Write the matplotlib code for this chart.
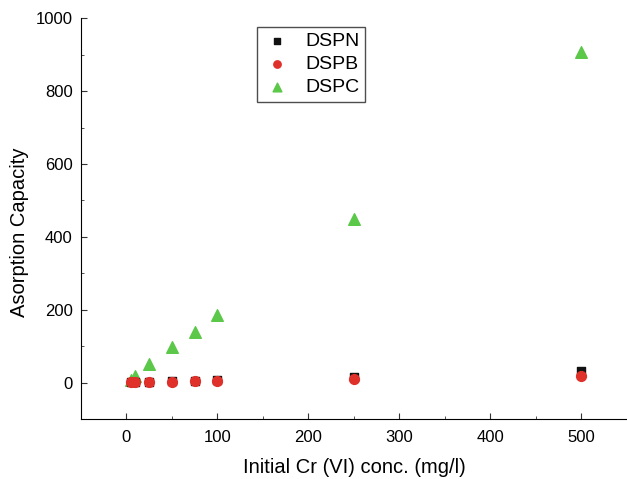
import matplotlib
matplotlib.use("Agg")
import matplotlib.pyplot as plt
from matplotlib.ticker import MultipleLocator

plt.rcParams['font.family'] = ['Liberation Sans', 'DejaVu Sans']

conc = [5, 10, 25, 50, 75, 100, 250, 500]
dspn = [1, 2, 3, 4, 5, 6, 15, 32]
dspb = [1, 1.5, 2, 3, 4, 4.5, 10, 18]
dspc = [6, 18, 52, 98, 140, 185, 450, 907]

fig = plt.figure(figsize=(6.27, 4.79), dpi=100)
ax = fig.add_axes([0.129, 0.125, 0.871, 0.837])

ax.scatter(conc, dspn, marker='s', s=36, color='#111111', label='DSPN', zorder=3)
ax.scatter(conc, dspb, marker='o', s=50, color='#e0302a', label='DSPB', zorder=4)
ax.scatter(conc, dspc, marker='^', s=70, color='#5cc84a', label='DSPC', zorder=2)

ax.set_xlim(-50, 550)
ax.set_ylim(-100, 1000)
ax.xaxis.set_major_locator(MultipleLocator(100))
ax.xaxis.set_minor_locator(MultipleLocator(50))
ax.yaxis.set_minor_locator(MultipleLocator(100))
ax.set_yticks([0, 200, 400, 600, 800, 1000])
ax.spines['top'].set_visible(False)
ax.spines['right'].set_visible(False)
ax.tick_params(which='both', direction='in', labelsize=12, color='#333333')
ax.tick_params(which='major', length=4)
ax.tick_params(which='minor', length=2.5)
ax.tick_params(axis='x', pad=8)
ax.tick_params(axis='y', pad=6)

ax.set_xlabel('Initial Cr (VI) conc. (mg/l)', fontsize=14.5, labelpad=9)
ax.set_ylabel('Asorption Capacity', fontsize=14.5)
ax.yaxis.set_label_coords(-0.095, 0.466)

leg = ax.legend(loc='upper left', bbox_to_anchor=(0.322, 0.978), fontsize=14,
                frameon=True, fancybox=False, edgecolor='#222222',
                handletextpad=0.7, borderpad=0.3, labelspacing=0.26,
                handlelength=1.5, scatterpoints=1, markerscale=0.75,
                borderaxespad=0)
leg.get_frame().set_linewidth(1.0)

fig.savefig('out.png', dpi=100)
